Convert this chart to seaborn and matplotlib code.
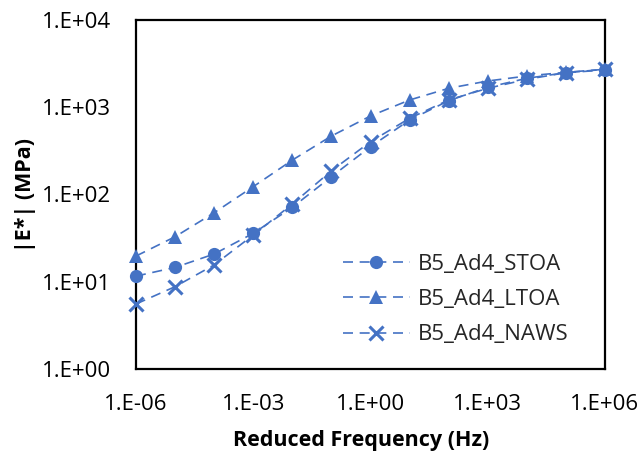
import numpy as np
import pandas as pd
import matplotlib
matplotlib.use("Agg")
import matplotlib.pyplot as plt
import seaborn as sns

freq = [1e-6, 1e-5, 1e-4, 1e-3, 1e-2, 1e-1, 1e0, 1e1, 1e2, 1e3, 1e4, 1e5, 1e6]
stoa = [11.6, 14.6, 20.8, 35.9, 71.3, 160, 353, 714, 1189, 1693, 2147, 2489, 2673]
ltoa = [19.7, 32.8, 61.8, 123, 248, 468, 794, 1211, 1649, 2000, 2281, 2516, 2723]
naws = [5.56, 8.78, 15.6, 34.3, 77.8, 187, 403, 747, 1211, 1649, 2090, 2489, 2723]
series_names = ["B5_Ad4_STOA", "B5_Ad4_LTOA", "B5_Ad4_NAWS"]
x_ticks = [1e-6, 1e-3, 1e0, 1e3, 1e6]
x_tick_labels = ["1.E-06", "1.E-03", "1.E+00", "1.E+03", "1.E+06"]
y_ticks = [1e0, 1e1, 1e2, 1e3, 1e4]
y_tick_labels = ["1.E+00", "1.E+01", "1.E+02", "1.E+03", "1.E+04"]

sns.set_theme(style="white")
plt.rcParams['font.family'] = ['Open Sans', 'DejaVu Sans']

color = "#4472C4"
df = pd.DataFrame({
    "freq": freq * 3,
    "E": stoa + ltoa + naws,
    "series": [series_names[0]] * len(freq) + [series_names[1]] * len(freq) + [series_names[2]] * len(freq),
})

fig = plt.figure(figsize=(6.42, 4.61), dpi=100)
ax = fig.add_axes([136/642, 1 - 369/461, (605-136)/642, (369-20)/461])

markers = {"B5_Ad4_STOA": "o", "B5_Ad4_LTOA": "^", "B5_Ad4_NAWS": "x"}
msizes = {"B5_Ad4_STOA": 9.5, "B5_Ad4_LTOA": 9.5, "B5_Ad4_NAWS": 10}
for name in series_names:
    sub = df[df["series"] == name]
    sns.lineplot(data=sub, x="freq", y="E", ax=ax, color=color, marker=markers[name],
                 markersize=msizes[name], markeredgewidth=2.2 if name.endswith("NAWS") else 0,
                 markeredgecolor=color, linestyle=(0, (6, 4)), linewidth=1.2,
                 label=name, clip_on=False, zorder=3)

ax.set_xscale("log")
ax.set_yscale("log")
ax.set_xlim(1e-6, 1e6)
ax.set_ylim(1, 1e4)
ax.set_xticks(x_ticks)
ax.set_xticklabels(x_tick_labels)
ax.set_yticks(y_ticks)
ax.set_yticklabels(y_tick_labels)
ax.minorticks_off()
ax.tick_params(axis="both", length=0, labelsize=16, colors="black")
ax.tick_params(axis="x", pad=18)
ax.tick_params(axis="y", pad=18)
for s in ax.spines.values():
    s.set_color("black")
    s.set_linewidth(1.6)
ax.grid(False)

ax.set_xlabel("Reduced Frequency (Hz)", fontsize=15.5, fontweight="bold", color="black")
ax.set_ylabel("|E*| (MPa)", fontsize=15.5, fontweight="bold", color="black")
ax.xaxis.set_label_coords((361-136)/469, (369-430)/349)
ax.yaxis.set_label_coords((36-136)/469, 0.5)

leg = ax.legend(loc="upper left", frameon=False, fontsize=16, handlelength=3.0,
                handletextpad=0.35, labelspacing=0.64, borderpad=0, borderaxespad=0,
                bbox_to_anchor=((343-136)/469, (369-254)/349))

fig.savefig("out.png", dpi=100)
